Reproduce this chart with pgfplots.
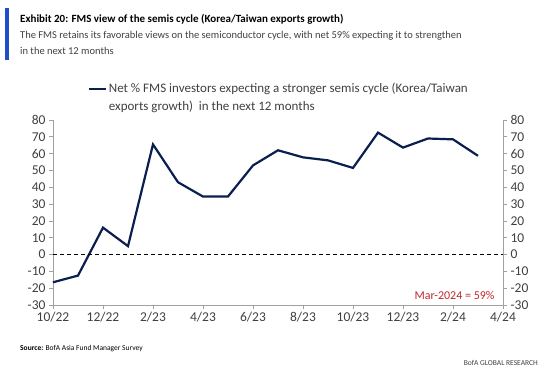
\documentclass[border=0pt]{standalone}
\usepackage{pgfplots}
\pgfplotsset{compat=1.18}
\usepackage{fontspec}
\setmainfont{Carlito}
\definecolor{navy}{HTML}{0A1F4F}
\definecolor{bofared}{HTML}{C0282D}
\definecolor{barblue}{HTML}{1F4FC8}
\definecolor{axgray}{HTML}{A0A0A0}
\definecolor{txtgray}{HTML}{404040}
\begin{document}
\begin{tikzpicture}[x=1bp,y=1bp]
\useasboundingbox (0,0) rectangle (548,374);
\fill[barblue] (5,314) rectangle (9,366);
\node[anchor=base west,inner sep=0] at (20,352) {\fontsize{11bp}{13bp}\selectfont\bfseries Exhibit 20: FMS view of the semis cycle (Korea/Taiwan exports growth)};
\node[anchor=base west,inner sep=0,text=txtgray] at (20,336) {\fontsize{10.5bp}{12bp}\selectfont The FMS retains its favorable views on the semiconductor cycle, with net 59\% expecting it to strengthen};
\node[anchor=base west,inner sep=0,text=txtgray] at (20,320) {\fontsize{10.5bp}{12bp}\selectfont in the next 12 months};
\node[anchor=base west,inner sep=0] at (20,24) {\fontsize{7.5bp}{9bp}\selectfont\textbf{Source:} BofA Asia Fund Manager Survey};
\node[anchor=base east,inner sep=0,text=txtgray] at (538,9) {\fontsize{7.5bp}{9bp}\selectfont BofA GLOBAL RESEARCH};
\begin{axis}[
  at={(53bp,69bp)}, anchor=south west,
  width=450bp, height=185bp, scale only axis,
  xmin=0, xmax=18, ymin=-30, ymax=80,
  axis x line*=bottom, axis y line*=left,
  axis line style={axgray, line width=0.8bp},
  xtick={0,2,...,18},
  xticklabels={10/22,12/22,2/23,4/23,6/23,8/23,10/23,12/23,2/24,4/24},
  ytick={-30,-20,...,80},
  tick align=outside, major tick length=4bp,
  tick style={axgray, line width=0.8bp},
  ticklabel style={font=\fontsize{13.5bp}{15bp}\selectfont, text=txtgray},
  /pgf/number format/assume math mode=true,
  clip=false,
  legend image post style={yshift=3.5bp},
  legend style={at={(0.07,1.235)}, anchor=north west, draw=none, fill=none,
    font=\fontsize{13bp}{17bp}\selectfont, text=txtgray, cells={anchor=base west}},
]
\addplot[navy, line width=2.2bp] coordinates {
(0,-16.5) (1,-12.5) (2,16) (3,5) (4,65.5) (5,43) (6,34.5) (7,34.5) (8,53)
(9,62) (10,57.8) (11,56) (12,51.5) (13,72.5) (14,63.6) (15,69) (16,68.5) (17,58.7)};
\addlegendentry{\begin{tabular}[t]{@{}l@{}}Net \% FMS investors expecting a stronger semis cycle (Korea/Taiwan\\[1bp] exports growth)\ \ in the next 12 months\end{tabular}}
\addplot[black, line width=1.3bp, dash pattern=on 4bp off 3bp, forget plot] coordinates {(0,0) (18,0)};
\node[anchor=south east, text=bofared, font=\fontsize{12bp}{14bp}\selectfont] at (axis cs:17.8,-29) {Mar-2024 = 59\%};
\end{axis}
\begin{axis}[
  at={(53bp,69bp)}, anchor=south west,
  width=450bp, height=185bp, scale only axis,
  xmin=0, xmax=18, ymin=-30, ymax=80,
  axis x line=none, axis y line*=right,
  axis line style={axgray, line width=0.8bp},
  ytick={-30,-20,...,80},
  tick align=outside, major tick length=4bp,
  tick style={axgray, line width=0.8bp},
  ticklabel style={font=\fontsize{13.5bp}{15bp}\selectfont, text=txtgray},
  /pgf/number format/assume math mode=true,
]
\addplot[draw=none, forget plot] coordinates {(0,0)};
\end{axis}
\end{tikzpicture}
\end{document}
